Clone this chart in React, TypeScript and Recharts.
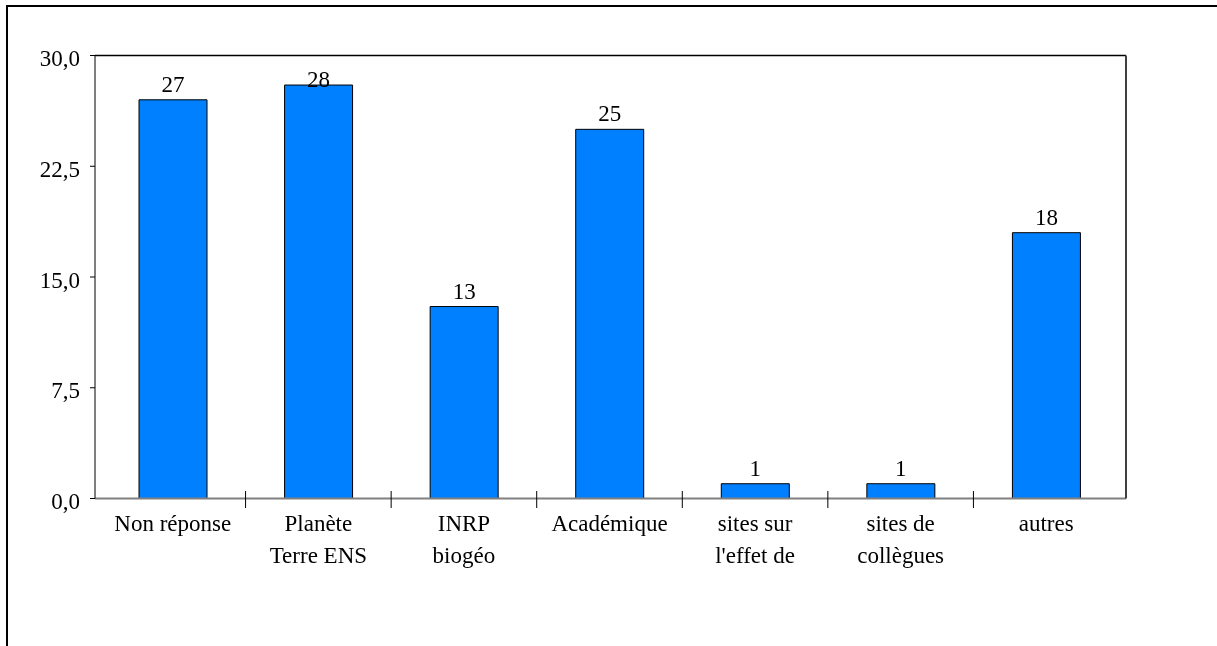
import React from 'react'
import { BarChart, Bar, XAxis, YAxis, LabelList } from 'recharts'

const categories = [
  'Non réponse',
  'Planète\nTerre ENS',
  'INRP\nbiogéo',
  'Académique',
  "sites sur\nl'effet de",
  'sites de\ncollègues',
  'autres',
]
const counts = [27, 28, 13, 25, 1, 1, 18]
const yTicks = [0, 7.5, 15, 22.5, 30]

const data = categories.map((name, i) => ({ name, value: counts[i] }))

const FONT = '"Liberation Serif", "Times New Roman", serif'
const FONT_SIZE = 23
const W = 1200
const H = 630
// top/right axes are 1px wide, they only draw the plot frame
const MARGIN = { top: 46.5, right: 81, left: 7, bottom: 39.5 }
const PLOT_TOP = MARGIN.top + 1
const Y_AXIS_W = 80
const PAD = { left: 5, right: 7 }
const plotWidth = W - MARGIN.left - Y_AXIS_W - MARGIN.right - 1
const band = (plotWidth - PAD.left - PAD.right) / categories.length

const fmt = (v: number) => v.toFixed(1).replace('.', ',')

const CategoryTick = (props: any) => {
  const { x, y, payload, index } = props
  const lines = String(payload.value).split('\n')
  return (
    <g>
      {index > 0 && (
        <line x1={x - band / 2} x2={x - band / 2} y1={y - 7.5} y2={y + 9.5} stroke="#000" strokeWidth={1} />
      )}
      <text textAnchor="middle" fontFamily={FONT} fontSize={FONT_SIZE} fill="#000">
        {lines.map((l, i) => (
          <tspan key={i} x={x} y={y + 32.5 + i * 32}>{l}</tspan>
        ))}
      </text>
    </g>
  )
}

const ValueTick = (props: any) => {
  const { x, y, payload } = props
  return (
    <text x={x} y={y + 10.5} textAnchor="end" fontFamily={FONT} fontSize={FONT_SIZE} fill="#000">
      {fmt(payload.value)}
    </text>
  )
}

const BarValue = (props: any) => {
  const { x, y, width, value } = props
  // excel keeps the label inside the plot area
  const baseline = Math.max(y - 8, PLOT_TOP + 31)
  return (
    <text x={x + width / 2} y={baseline} textAnchor="middle" fontFamily={FONT} fontSize={FONT_SIZE} fill="#000">
      {value}
    </text>
  )
}

export default function App() {
  return (
    <div>
      <div
        style={{
          position: 'fixed',
          left: 6,
          top: 5,
          width: 1400,
          height: 800,
          borderLeft: '2px solid #000',
          borderTop: '2px solid #000',
          pointerEvents: 'none',
        }}
      />
      <BarChart width={W} height={H} data={data} margin={MARGIN}>
        <XAxis
          dataKey="name"
          interval={0}
          padding={PAD}
          height={100}
          tickSize={0}
          tickMargin={0}
          tick={<CategoryTick />}
          axisLine={{ stroke: '#808080', strokeWidth: 2 }}
        />
        <XAxis
          xAxisId="top"
          orientation="top"
          dataKey="name"
          height={1}
          tick={false}
          tickLine={false}
          axisLine={{ stroke: '#000', strokeWidth: 1.5 }}
        />
        <YAxis
          domain={[0, 30]}
          ticks={yTicks}
          width={Y_AXIS_W}
          tickSize={5}
          tickMargin={10}
          tick={<ValueTick />}
          tickLine={{ stroke: '#000' }}
          axisLine={{ stroke: '#000', strokeWidth: 1 }}
        />
        <YAxis
          yAxisId="right"
          orientation="right"
          domain={[0, 30]}
          width={1}
          tick={false}
          tickLine={false}
          axisLine={{ stroke: '#404040', strokeWidth: 2 }}
        />
        <Bar dataKey="value" fill="#0080FF" stroke="#000" strokeWidth={1} barSize={68} isAnimationActive={false}>
          <LabelList dataKey="value" content={<BarValue />} />
        </Bar>
      </BarChart>
    </div>
  )
}
